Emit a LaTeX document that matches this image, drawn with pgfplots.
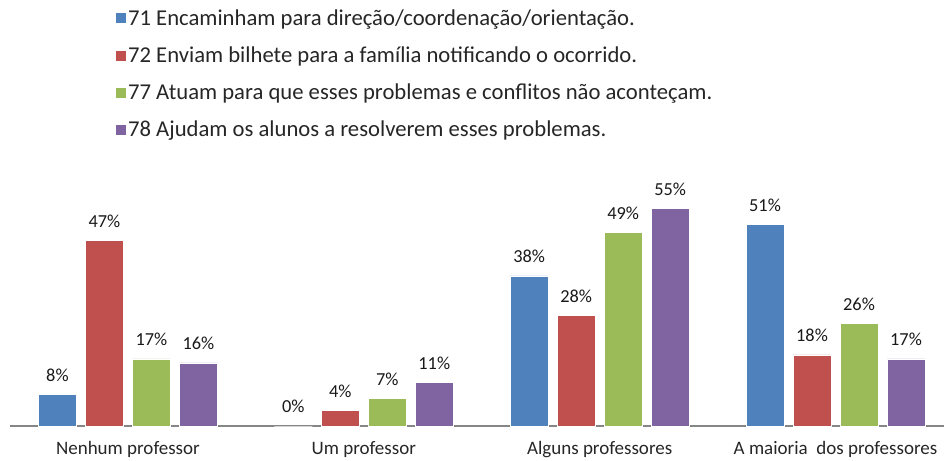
\documentclass[border=0pt]{standalone}
\usepackage{pgfplots}
\pgfplotsset{compat=1.18}
\usepackage{fontspec}
\setmainfont{Carlito}
\definecolor{cblue}{HTML}{4F81BD}
\definecolor{cred}{HTML}{C0504D}
\definecolor{cgreen}{HTML}{9BBB59}
\definecolor{cpurple}{HTML}{8064A2}
\definecolor{axgray}{HTML}{868686}
\begin{document}
\begin{tikzpicture}
\useasboundingbox (-7.5pt,-25.5pt) rectangle (700.5pt,319.5pt);
\begin{axis}[
  scale only axis,
  width=700.5pt, height=177.75pt,
  ybar=6.75pt, bar width=28.5pt,
  xmin=-0.5, xmax=3.46,
  ymin=0, ymax=60,
  clip=false,
  axis x line=bottom,
  axis y line=none,
  x axis line style={-, draw=axgray, line width=0.9pt},
  xtick={0,1,2,3},
  xticklabels={Nenhum professor, Um professor, Alguns professores, A maioria~ dos professores},
  major tick length=0pt,
  xticklabel style={font=\fontsize{14.25pt}{16pt}\selectfont, text=black!85, yshift=-8pt},
  /pgf/number format/assume math mode=true,
  nodes near coords={\pgfmathprintnumber{\pgfplotspointmeta}\%},
  every node near coord/.append style={font=\fontsize{13.75pt}{16pt}\selectfont, text=black!90, inner sep=0pt, anchor=south, yshift=9.5pt},
  legend style={at={(axis description cs:0.1124,1.765)}, anchor=north west, draw=none, fill=none,
    font=\fontsize{17pt}{19pt}\selectfont, text=black!85, row sep=12.6pt, inner sep=0pt,
    nodes={inner sep=1pt}},
  legend cell align=left,
  legend image code/.code={\fill[#1] (0pt,-4.1pt) rectangle (8.25pt,4.15pt);},
]
\addplot[fill=cblue, draw=white, line width=0.4pt] coordinates {(0,8) (1,0) (2,38) (3,51)};
\addplot[fill=cred, draw=white, line width=0.4pt] coordinates {(0,47) (1,4) (2,28) (3,18)};
\addplot[fill=cgreen, draw=white, line width=0.4pt] coordinates {(0,17) (1,7) (2,49) (3,26)};
\addplot[fill=cpurple, draw=white, line width=0.4pt] coordinates {(0,16) (1,11) (2,55) (3,17)};
\legend{71 Encaminham para direção/coordenação/orientação.,
        72 Enviam bilhete para a família notificando o ocorrido.,
        77 Atuam para que esses problemas e conflitos não aconteçam.,
        78 Ajudam os alunos a resolverem esses problemas.}
\end{axis}
\end{tikzpicture}
\end{document}
